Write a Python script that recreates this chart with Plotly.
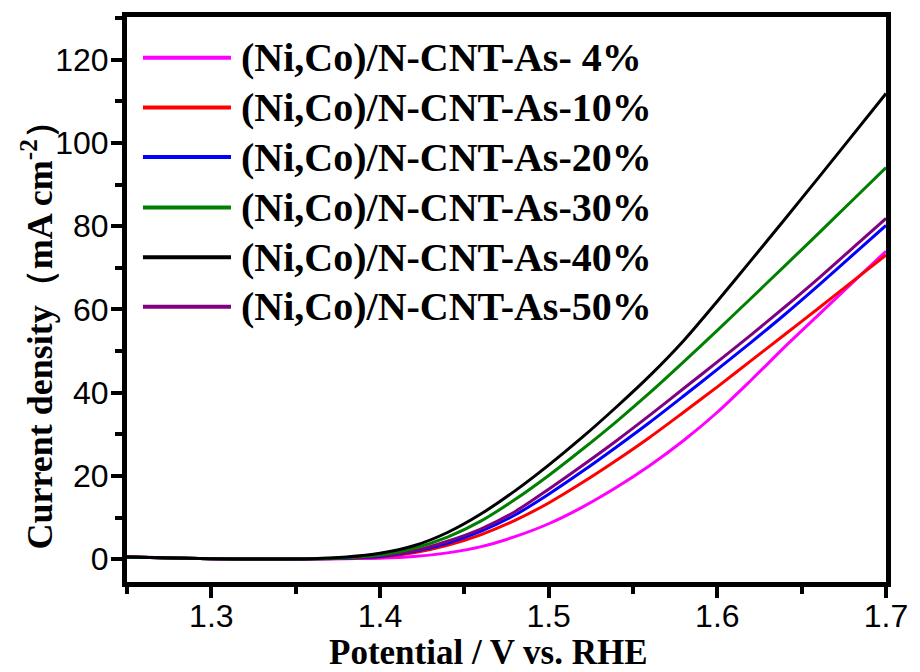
import plotly.graph_objects as go

# Polarization (LSV) curves: potential vs. RHE and current density
potential = [1.25, 1.27, 1.30, 1.33, 1.36, 1.38, 1.40, 1.42, 1.44, 1.46, 1.48,
             1.50, 1.52, 1.54, 1.56, 1.58, 1.60, 1.62, 1.64, 1.66, 1.68, 1.70]

j_4 = [0.5, 0.3, 0.1, 0.0, 0.0, 0.1, 0.2, 0.6, 1.5, 3.0, 5.4,
       8.5, 12.5, 17.2, 22.5, 28.5, 35.3, 43.0, 51.0, 58.7, 66.4, 74.0]
j_10 = [0.5, 0.3, 0.1, 0.0, 0.1, 0.2, 0.5, 1.5, 3.3, 5.9, 9.3,
        13.5, 18.4, 23.7, 29.3, 35.3, 41.4, 47.7, 54.0, 60.3, 66.7, 73.1]
j_20 = [0.5, 0.3, 0.1, 0.0, 0.1, 0.2, 0.6, 1.8, 3.8, 6.7, 10.6,
        15.6, 21.1, 26.9, 32.9, 39.2, 45.6, 52.1, 58.8, 65.8, 73.0, 80.2]
j_30 = [0.5, 0.3, 0.1, 0.0, 0.1, 0.3, 1.0, 2.6, 5.3, 9.2, 14.3,
        20.1, 26.4, 33.0, 40.0, 47.4, 55.0, 62.7, 70.5, 78.3, 86.2, 94.1]
j_40 = [0.5, 0.3, 0.1, 0.0, 0.1, 0.5, 1.4, 3.2, 6.4, 10.9, 16.4,
        22.6, 29.3, 36.5, 44.1, 52.5, 62.0, 71.8, 81.7, 91.7, 101.8, 111.9]
j_50 = [0.6, 0.3, 0.1, 0.0, 0.1, 0.3, 0.8, 2.0, 4.3, 7.3, 11.4,
        16.8, 22.5, 28.4, 34.6, 41.0, 47.4, 53.9, 60.6, 67.5, 74.7, 81.9]

labels = ["(Ni,Co)/N-CNT-As- 4%", "(Ni,Co)/N-CNT-As-10%", "(Ni,Co)/N-CNT-As-20%",
          "(Ni,Co)/N-CNT-As-30%", "(Ni,Co)/N-CNT-As-40%", "(Ni,Co)/N-CNT-As-50%"]
series = [j_4, j_10, j_20, j_30, j_40, j_50]
colors = ["#FF00FF", "#FF0000", "#0000FF", "#008000", "#000000", "#800080"]

x_ticks = [1.3, 1.4, 1.5, 1.6, 1.7]
y_ticks = [0, 20, 40, 60, 80, 100, 120]

fig = go.Figure()

# draw order: 40% on top near onset
draw_order = [0, 1, 2, 5, 3, 4]
for i in draw_order:
    fig.add_trace(go.Scatter(
        x=potential, y=series[i], mode="lines", name=labels[i],
        line=dict(color=colors[i], width=3, shape="spline", smoothing=0.8),
        showlegend=False,
    ))

# Hand-placed legend: long line samples with bold serif labels
serif_bold = "Liberation Serif"
row_y = [0.928, 0.840, 0.752, 0.663, 0.575, 0.487]
for lab, col, yy in zip(labels, colors, row_y):
    fig.add_shape(type="line", xref="paper", yref="paper",
                  x0=0.021, x1=0.137, y0=yy, y1=yy,
                  line=dict(color=col, width=4))
    fig.add_annotation(xref="paper", yref="paper", x=0.148, y=yy,
                       xanchor="left", yanchor="middle", showarrow=False,
                       text="<b>" + lab + "</b>",
                       font=dict(family=serif_bold, size=40, color="black"))

# Axis titles
fig.add_annotation(xref="paper", yref="paper", x=0.4765, y=-0.124,
                   xanchor="center", yanchor="middle", showarrow=False,
                   text="<b>Potential / V vs. RHE</b>",
                   font=dict(family=serif_bold, size=35, color="black"))
fig.add_annotation(xref="paper", yref="paper", x=-0.118, y=0.453,
                   xanchor="center", yanchor="middle", showarrow=False,
                   textangle=-90,
                   text="<b>Current density（mA cm<sup>-2</sup>）</b>",
                   font=dict(family=serif_bold, size=36, color="black"))

axis_common = dict(
    showgrid=False, zeroline=False,
    showline=True, linecolor="black", linewidth=5, mirror=True,
    ticks="outside", ticklen=11, tickwidth=4, tickcolor="black",
    tickfont=dict(family="Liberation Sans", size=32, color="black"),
)

fig.update_xaxes(range=[1.25, 1.70], tickvals=x_ticks,
                 ticktext=[f"{v:.1f}" for v in x_ticks],
                 ticklabelstandoff=-9,
                 minor=dict(dtick=0.05, tick0=1.25, ticks="outside",
                            ticklen=7, tickwidth=4, tickcolor="black"),
                 **axis_common)
fig.update_yaxes(range=[-5.5, 130.3], tickvals=y_ticks,
                 ticklabelstandoff=-4,
                 minor=dict(dtick=10, tick0=0, ticks="outside",
                            ticklen=7, tickwidth=4, tickcolor="black"),
                 **axis_common)

fig.update_layout(
    width=920, height=672,
    margin=dict(l=127, r=28, t=15, b=90),
    plot_bgcolor="white", paper_bgcolor="white",
    showlegend=False,
)

fig.write_html("out.html")
